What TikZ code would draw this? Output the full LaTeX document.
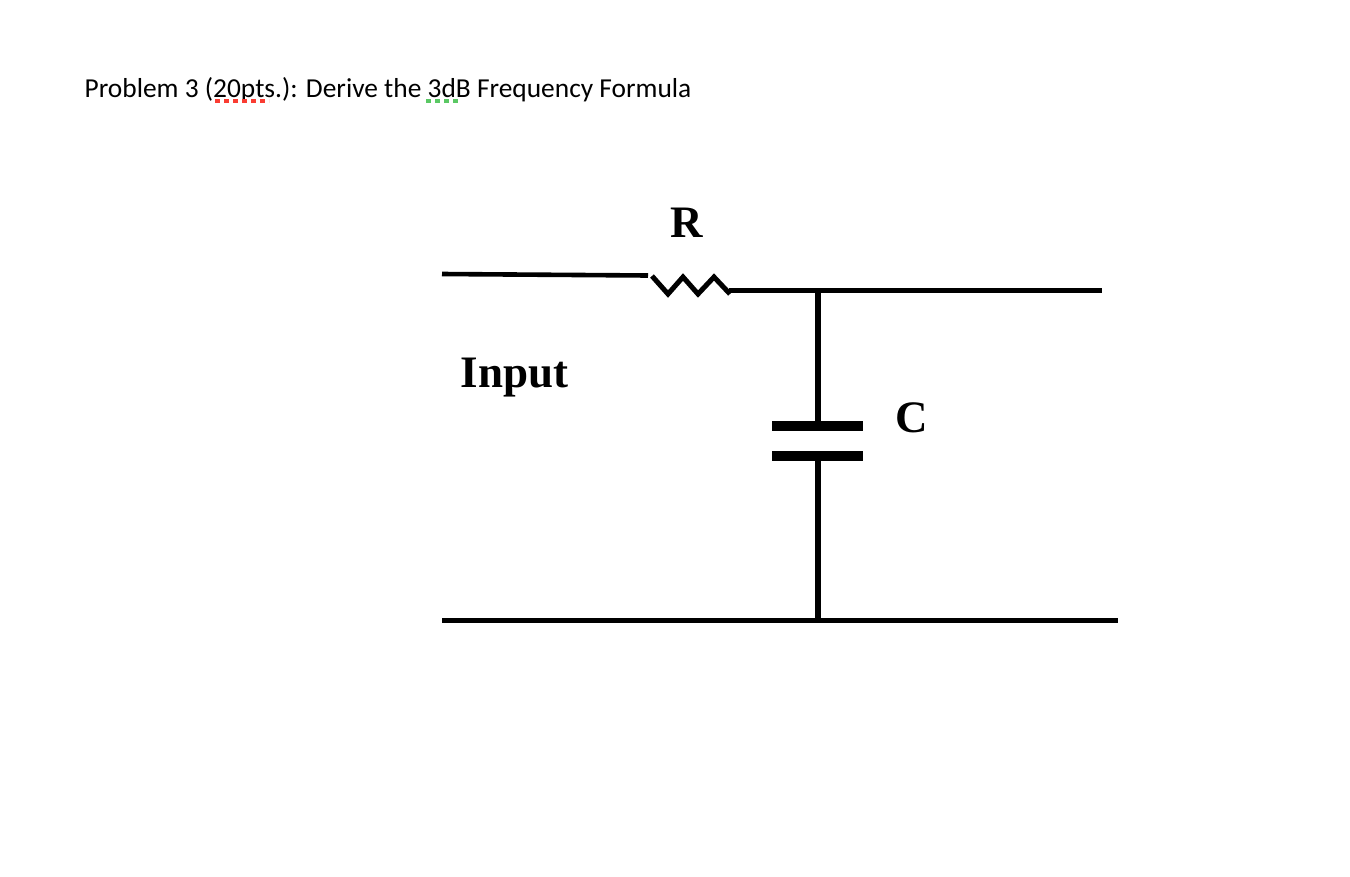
\documentclass[tikz,border=0pt]{standalone}
\usepackage{fontspec}
\setmainfont{Liberation Serif}
\newfontfamily\titlefont{Carlito}
\usetikzlibrary{positioning}
\definecolor{spellred}{RGB}{250,60,50}
\definecolor{spellgreen}{RGB}{90,200,100}
\tikzset{
	wirethin/.style={line width=4.6pt,color=black},
	wirethick/.style={line width=5.6pt,color=black},
	plate/.style={line width=10.5pt,color=black},
	zigzag/.style={line width=5pt,color=black,line join=miter},
	partlabel/.style={font=\bfseries\fontsize{45}{45}\selectfont,inner sep=0pt,anchor=base},
	squiggle/.style={line width=4pt,dash pattern=on 5pt off 4pt},
}
\begin{document}
\begin{tikzpicture}[x=1pt,y=-1pt]
		\useasboundingbox (0,0) rectangle (1350,876);
		\node[anchor=base west,inner sep=0pt,font=\titlefont\fontsize{27.4}{27.4}\selectfont] (title) at (84.5,97) {Problem 3 (20pts.): Derive the 3dB Frequency Formula};
		\coordinate (inleft) at (442,274);
		\coordinate (rleft) at (648,275.5);
		\coordinate (rright) at (729,290.5);
		\coordinate (outright) at (1102,290.5);
		\coordinate (top) at (818,290.5);
		\coordinate (platea) at (818,426);
		\coordinate (plateb) at (818,456);
		\coordinate (bottom) at (818,620.5);
		\coordinate (gndleft) at (442,620.5);
		\coordinate (gndright) at (1118,620.5);
		\draw[wirethin] (inleft) -- (rleft);
		\draw[zigzag] (652,276) -- (668,294) -- (683,277) -- (698,294) -- (714,277) -- (730,294);
		\draw[wirethin] (rright) -- (outright);
		\draw[wirethick] (top) -- (platea);
		\draw[plate] (772,426) -- (863,426);
		\draw[plate] (772,456) -- (863,456);
		\draw[wirethick] (plateb) -- (bottom);
		\draw[wirethick] (gndleft) -- (gndright);
		\node[partlabel] (rlabel) at (686.5,237) {R};
		\node[partlabel] (input) at (514.5,387.5) {Input};
		\node[partlabel] (clabel) at (912,432.5) {C};
		\draw[squiggle,color=spellred] (215,100.5) -- (269,100.5);
		\draw[squiggle,color=spellgreen] (426,100.5) -- (460,100.5);
		\end{tikzpicture}
\end{document}
